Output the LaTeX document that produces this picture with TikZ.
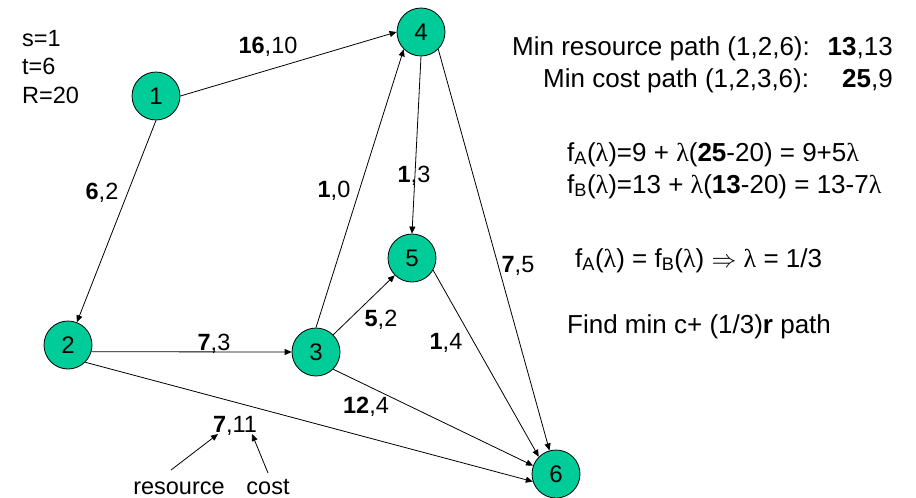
\documentclass[tikz,border=0pt]{standalone}
\usepackage{fontspec}
\setmainfont{Liberation Sans}
\newfontfamily\symfont{Liberation Serif}
\usetikzlibrary{arrows.meta}
\definecolor{nodegreen}{RGB}{0,204,153}
\newcommand{\lam}{{\symfont λ}}
\tikzset{
  vertex/.style={circle, draw=black, line width=0.8pt, fill=nodegreen, minimum size=48pt, inner sep=0pt, font=\fontsize{24}{27}\selectfont},
  edge/.style={line width=0.8pt, -{Triangle[length=7pt,width=6pt]}},
  elabel/.style={anchor=base, inner sep=0pt, font=\fontsize{23.5}{27}\selectfont},
  ltext/.style={anchor=base west, inner sep=0pt, font=\fontsize{23.5}{27}\selectfont},
  rtext/.style={anchor=base west, inner sep=0pt, font=\fontsize{26}{30}\selectfont},
  rtextE/.style={anchor=base east, inner sep=0pt, font=\fontsize{26}{30}\selectfont}
}
\begin{document}
\begin{tikzpicture}[x=1pt, y=-1pt]
\useasboundingbox (0,0) rectangle (916,498);
% vertices
\node[vertex] (n1) at (156,96) {1};
\node[vertex] (n2) at (68,345) {2};
\node[vertex] (n3) at (316,352) {3};
\node[vertex] (n4) at (421,32) {4};
\node[vertex] (n5) at (412,258) {5};
\node[vertex] (n6) at (556,474) {6};
% edges
\draw[edge] (n1.east) -- (n4.west);
\draw[edge] (n1.south) -- (n2);
\draw[edge] (n4.south) -- (n5.north);
\draw[edge] (n4.south east) -- (n6);
\draw[edge] (n3.north) -- (n4.south west);
\draw[edge] (n2.-16) -- (n3.west);
\draw[edge] (n3.north east) -- (n5.south west);
\draw[edge] (n3.south east) -- (n6.160);
\draw[edge] (n5.-30) -- (n6.north west);
\draw[edge] (n2.south east) -- (n6.198);
% edge labels
\node[elabel] (l14) at (268,53) {\textbf{16},10};
\node[elabel] (l12) at (102,199) {\textbf{6},2};
\node[elabel] (l34) at (334,197) {\textbf{1},0};
\node[elabel] (l45) at (414,182) {\textbf{1},3};
\node[elabel] (l23) at (214,350) {\textbf{7},3};
\node[elabel] (l35) at (381,326) {\textbf{5},2};
\node[elabel] (l56) at (446,349) {\textbf{1},4};
\node[elabel] (l46) at (518,272) {\textbf{7},5};
\node[elabel] (l36) at (366,413) {\textbf{12},4};
\node[elabel] (l26) at (235,432) {\textbf{7},11};
% legend
\node[elabel] (res) at (179,494) {resource};
\node[elabel] (cst) at (268,494) {cost};
\coordinate (rfoot) at (171,470);
\coordinate (rtip) at (218,434);
\coordinate (cfoot) at (268,473);
\coordinate (ctip) at (252,434);
\draw[edge] (rfoot) -- (rtip);
\draw[edge] (cfoot) -- (ctip);
% parameters
\node[ltext] (ps) at (22,46) {s=1};
\node[ltext] (pt) at (22,74) {t=6};
\node[ltext] (pr) at (22,103) {R=20};
% right text
\node[rtext] (m1) at (512,55) {Min resource path (1,2,6):};
\node[rtextE] (m1v) at (893,55) {\textbf{13},13};
\node[rtext] (m2) at (543,87) {Min cost path (1,2,3,6):};
\node[rtextE] (m2v) at (893,87) {\textbf{25},9};
\node[rtext] (fa) at (567,161) {f\textsubscript{A}(\lam)=9 + \lam(\textbf{25}-20) = 9+5\lam};
\node[rtext] (fb) at (567,193) {f\textsubscript{B}(\lam)=13 + \lam(\textbf{13}-20) = 13-7\lam};
\node[rtext] (eq) at (575,267) {f\textsubscript{A}(\lam) = f\textsubscript{B}(\lam) $\Rightarrow$ \lam\ = 1/3};
\node[rtext] (fd) at (567,333) {Find min c+ (1/3)\textbf{r} path};
\end{tikzpicture}
\end{document}
